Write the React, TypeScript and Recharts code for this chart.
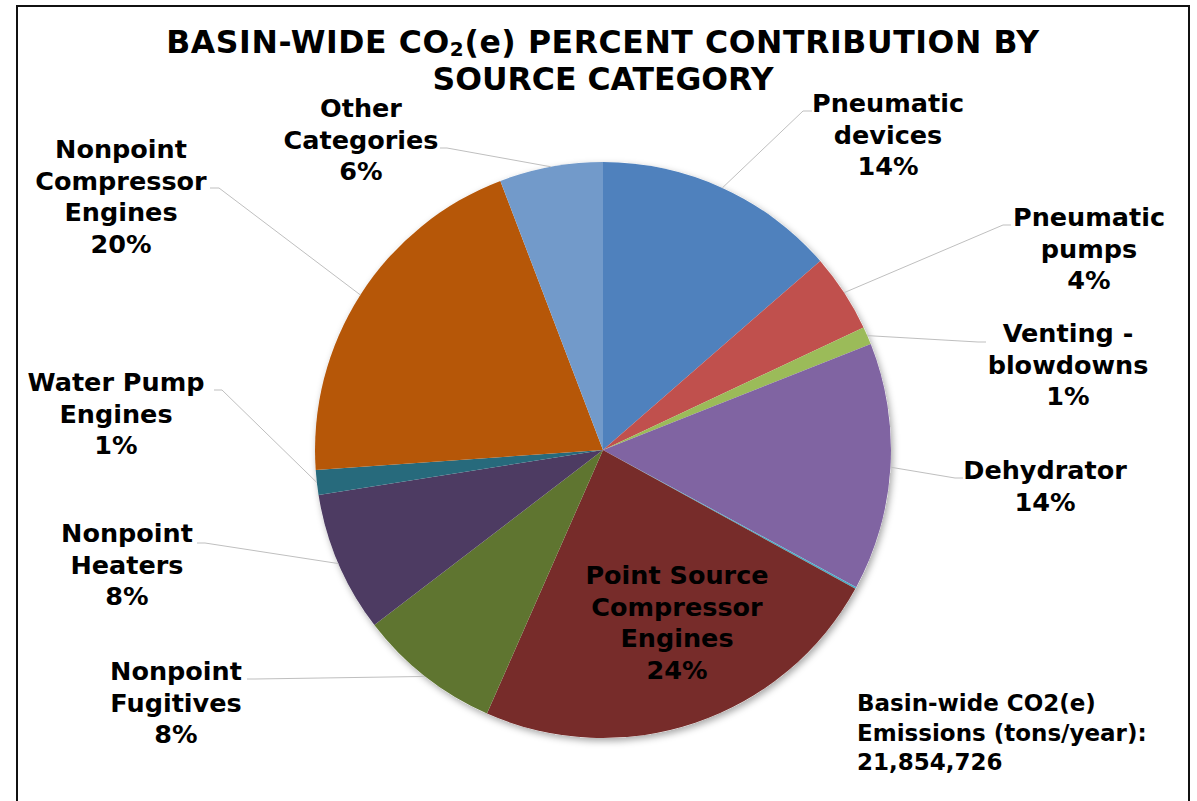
import React from "react";
import { PieChart, Pie, Cell } from "recharts";

const categories = [
  "Pneumatic\ndevices",
  "Pneumatic\npumps",
  "Venting -\nblowdowns",
  "Dehydrator",
  "Minor Sources",
  "Point Source\nCompressor\nEngines",
  "Nonpoint\nFugitives",
  "Nonpoint\nHeaters",
  "Water Pump\nEngines",
  "Nonpoint\nCompressor\nEngines",
  "Other\nCategories",
];

const shares = [13.6, 4.4, 1.0, 13.9, 0.1, 23.6, 8.0, 7.9, 1.4, 20.3, 5.8];

const titleLine1 = ["BASIN-WIDE CO", "2", "(e) PERCENT CONTRIBUTION BY"];
const titleLine2 = "SOURCE CATEGORY";
const noteLines = ["Basin-wide CO2(e)", "Emissions (tons/year):", "21,854,726"];

const colors = [
  "#4F81BD",
  "#C0504D",
  "#9BBB59",
  "#8064A2",
  "#4BACC6",
  "#772C2A",
  "#5F7530",
  "#4D3B62",
  "#276A7C",
  "#B65708",
  "#729ACA",
];

// label layout (text centre x, first baseline y, leader elbow and end)
type Lay = { x: number; y: number; bx?: number; by?: number; ex?: number; ey?: number } | null;
const labelLayout: Lay[] = [
  { x: 888, y: 112, bx: 803, by: 111, ex: 812, ey: 111 },
  { x: 1089, y: 226, bx: 1003, by: 225, ex: 1011, ey: 225 },
  { x: 1068, y: 342, bx: 978, by: 342, ex: 986, ey: 342 },
  { x: 1045, y: 479, bx: 955, by: 478, ex: 963, ey: 478 },
  null,
  { x: 677, y: 584 },
  { x: 176, y: 680, bx: 255, by: 679, ex: 247, ey: 679 },
  { x: 127, y: 542, bx: 205, by: 543, ex: 197, ey: 543 },
  { x: 116, y: 391, bx: 222, by: 390, ex: 214, ey: 390 },
  { x: 121, y: 158, bx: 219, by: 188, ex: 210, ey: 188 },
  { x: 361, y: 117, bx: 447, by: 148, ex: 440, ey: 148 },
];

const data = categories.map((name, i) => ({ name, value: shares[i] }));
const FONT = "'DejaVu Sans', Verdana, sans-serif";
const RAD = Math.PI / 180;
const LINE_H = 31.5;

const renderLabel = (props: any) => {
  const { cx, cy, midAngle, outerRadius, percent, index } = props;
  const lay = labelLayout[index];
  if (!lay) return null;
  const lines = [...categories[index].split("\n"), `${Math.round(percent * 100)}%`];
  const sx = cx + outerRadius * Math.cos(-midAngle * RAD);
  const sy = cy + outerRadius * Math.sin(-midAngle * RAD);
  return (
    <g key={`lab-${index}`}>
      {lay.bx !== undefined && (
        <polyline
          points={`${sx},${sy} ${lay.bx},${lay.by} ${lay.ex},${lay.ey}`}
          fill="none"
          stroke="#BFBFBF"
          strokeWidth={1}
        />
      )}
      <text
        x={lay.x}
        y={lay.y}
        textAnchor="middle"
        fontFamily={FONT}
        fontWeight="bold"
        fontSize={25.5}
        fill="#000"
      >
        {lines.map((l, k) => (
          <tspan key={k} x={lay.x} y={lay.y + k * LINE_H}>
            {l}
          </tspan>
        ))}
      </text>
    </g>
  );
};

export default function App() {
  return (
    <div style={{ position: "absolute", left: 0, top: 0, width: 1197, height: 801, background: "#fff", overflow: "hidden" }}>
      <div
        style={{
          position: "absolute",
          left: 16,
          top: 5,
          width: 1174,
          height: 830,
          border: "2.5px solid #111",
          boxSizing: "border-box",
        }}
      />
      <div style={{ position: "absolute", left: 0, top: 0 }}>
        <PieChart width={1197} height={801} margin={{ top: 0, right: 0, bottom: 0, left: 0 }}>
          <defs>
            <filter id="pieShadow" x="-20%" y="-20%" width="140%" height="140%">
              <feDropShadow dx="2" dy="3" stdDeviation="3.5" floodColor="#000" floodOpacity="0.35" />
            </filter>
          </defs>
          <Pie
            data={[{ name: "base", value: 1 }]}
            dataKey="value"
            cx={603}
            cy={450}
            outerRadius={288}
            startAngle={90}
            endAngle={-270}
            isAnimationActive={false}
            stroke="none"
            label={false}
            labelLine={false}
          >
            <Cell fill="#fff" filter="url(#pieShadow)" />
          </Pie>
          <Pie
            data={data}
            dataKey="value"
            nameKey="name"
            cx={603}
            cy={450}
            outerRadius={288}
            startAngle={90}
            endAngle={-270}
            isAnimationActive={false}
            stroke="none"
            label={renderLabel}
            labelLine={false}
          >
            {data.map((d, i) => (
              <Cell key={d.name} fill={colors[i]} />
            ))}
          </Pie>
          <text x={603} y={53} textAnchor="middle" fontFamily={FONT} fontWeight="bold" fontSize={31.5} letterSpacing={0.6} fill="#000">
            {titleLine1[0]}
            <tspan fontSize={20} dy={3}>{titleLine1[1]}</tspan>
            <tspan dy={-3}>{titleLine1[2]}</tspan>
          </text>
          <text x={603} y={90} textAnchor="middle" fontFamily={FONT} fontWeight="bold" fontSize={31.5} fill="#000">
            {titleLine2}
          </text>
          <text x={857} y={711} fontFamily={FONT} fontWeight="bold" fontSize={23} fill="#000">
            {noteLines.map((l, k) => (
              <tspan key={k} x={857} y={711 + k * 29.5}>
                {l}
              </tspan>
            ))}
          </text>
        </PieChart>
      </div>
    </div>
  );
}
